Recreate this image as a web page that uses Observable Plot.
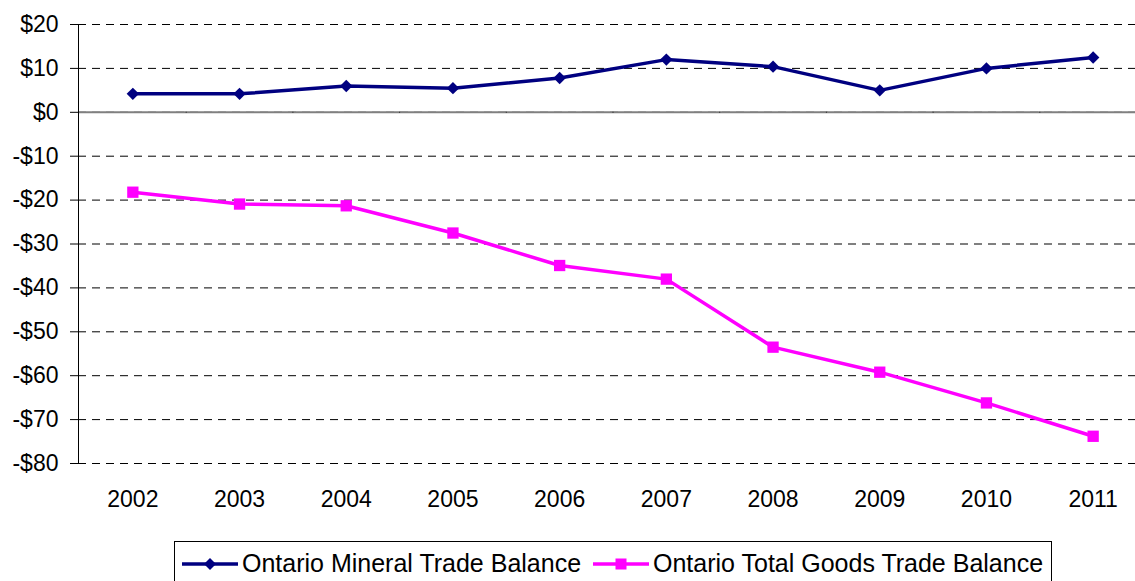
<!DOCTYPE html>
<html>
<head>
<meta charset="utf-8">
<script src="https://cdn.jsdelivr.net/npm/d3@7"></script>
<script src="https://cdn.jsdelivr.net/npm/@observablehq/plot@0.6"></script>
<style>
  body { margin: 0; background: #fff; font-family: "Liberation Sans", Arial, sans-serif; }
  #wrap { position: relative; width: 1135px; height: 581px; overflow: hidden; }
  #chart { position: absolute; left: 0; top: 0; }
  #legend { position: absolute; left: 174px; top: 541px; width: 878px; height: 50px; border: 1px solid #000; box-sizing: border-box; background: #fff; }
  .item { position: absolute; top: 7px; display: flex; align-items: center; font-size: 25px; color: #000; white-space: nowrap; }
  .item svg { margin-right: 4px; }
</style>
</head>
<body>
<div id="wrap">
  <div id="chart"></div>
  <div id="legend"></div>
</div>
<script>
const years = ["2002","2003","2004","2005","2006","2007","2008","2009","2010","2011"];
const mineral = [4.2, 4.2, 6.0, 5.5, 7.8, 12.0, 10.4, 5.0, 10.0, 12.5];
const totalGoods = [-18.2, -20.9, -21.3, -27.5, -34.9, -38.0, -53.5, -59.2, -66.2, -73.8];
const yTicks = [20, 10, 0, -10, -20, -30, -40, -50, -60, -70, -80];
const seriesNames = ["Ontario Mineral Trade Balance", "Ontario Total Goods Trade Balance"];
const seriesColors = ["#000080", "#FF00FF"];

const mineralData = years.map((y, i) => ({year: y, value: mineral[i]}));
const goodsData = years.map((y, i) => ({year: y, value: totalGoods[i]}));

const fmt = d => d < 0 ? `-$${-d}` : `$${d}`;
const bw = (1146 - 79) / years.length;

const chart = Plot.plot({
  width: 1135,
  height: 530,
  marginLeft: 78,
  marginRight: 0,
  marginTop: 24,
  marginBottom: 67,
  style: {fontFamily: '"Liberation Sans", Arial, sans-serif', background: "#fff"},
  x: {type: "band", domain: years, range: [79, 1146], padding: 0, round: false, axis: null},
  y: {domain: [-80, 20], axis: null},
  marks: [
    Plot.gridY(yTicks, {stroke: "#000", strokeOpacity: 1, strokeDasharray: "8,6", strokeWidth: 1}),
    Plot.ruleY([0], {stroke: "#808080", strokeWidth: 2}),
    Plot.ruleX(years.slice(1), {x: d => d, y1: 0, y2: -0.17, dx: -bw / 2, stroke: "#000", strokeWidth: 1}),
    Plot.frame({anchor: "left", stroke: "#000", strokeWidth: 1}),
    Plot.axisY(yTicks, {tickFormat: fmt, tickSize: 8, tickPadding: 12, fontSize: 23, stroke: "#000", color: "#000", label: null}),
    Plot.text(years, {x: d => d, y: -80, dy: 36, text: d => d, fontSize: 23, fill: "#000"}),
    Plot.line(mineralData, {x: "year", y: "value", stroke: seriesColors[0], strokeWidth: 3.5}),
    Plot.dot(mineralData, {x: "year", y: "value", symbol: "diamond2", r: 5.6, fill: seriesColors[0], stroke: "none"}),
    Plot.line(goodsData, {x: "year", y: "value", stroke: seriesColors[1], strokeWidth: 3.5}),
    Plot.dot(goodsData, {x: "year", y: "value", symbol: "square2", r: 7.2, fill: seriesColors[1], stroke: "none"})
  ]
});
document.getElementById("chart").appendChild(chart);

const legend = document.getElementById("legend");
const positions = [7, 418];
seriesNames.forEach((name, i) => {
  const item = document.createElement("div");
  item.className = "item";
  item.style.left = positions[i] + "px";
  const marker = i === 0
    ? `<polygon points="28,6 34,12 28,18 22,12" fill="${seriesColors[i]}"/>`
    : `<rect x="22.5" y="6.5" width="11" height="11" fill="${seriesColors[i]}"/>`;
  item.innerHTML = `<svg width="56" height="24"><line x1="0" y1="12" x2="56" y2="12" stroke="${seriesColors[i]}" stroke-width="3.5"/>${marker}</svg><span>${name}</span>`;
  legend.appendChild(item);
});
</script>
</body>
</html>
